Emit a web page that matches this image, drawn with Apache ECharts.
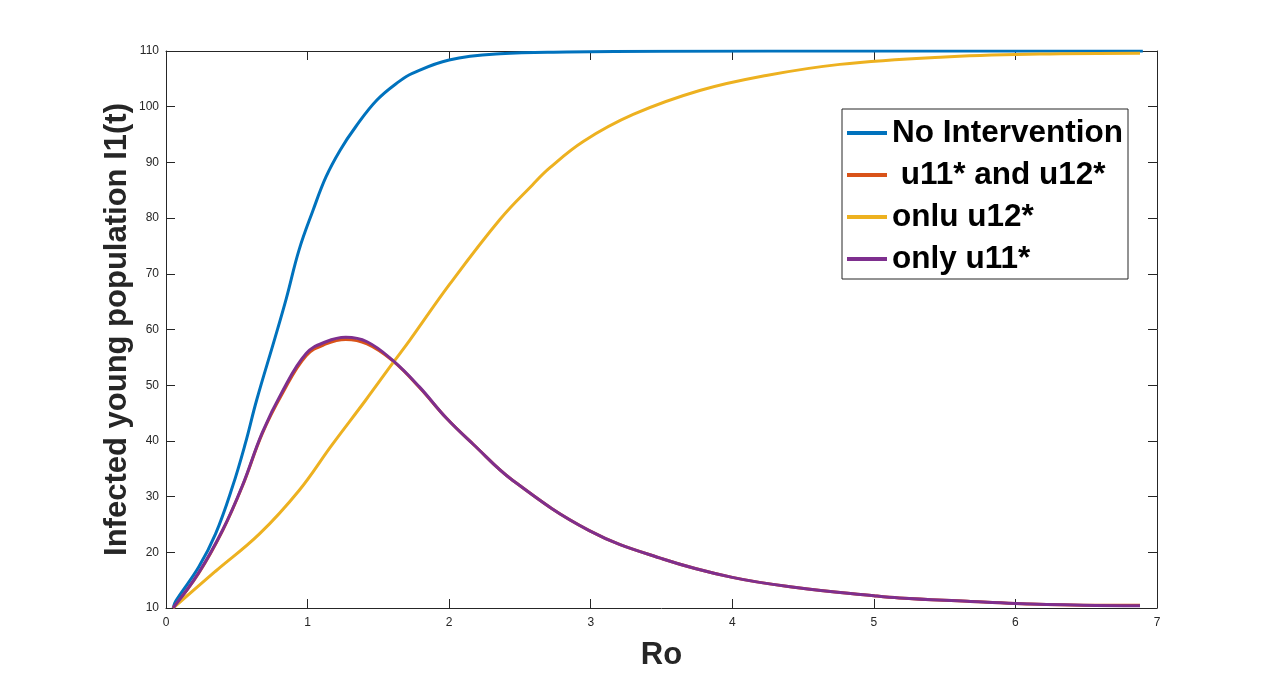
<!DOCTYPE html>
<html>
<head>
<meta charset="utf-8">
<script src="https://cdn.jsdelivr.net/npm/echarts@6/dist/echarts.min.js"></script>
<style>
  html, body { margin: 0; padding: 0; background: #fff; }
  #chart { width: 1280px; height: 683px; }
</style>
</head>
<body>
<div id="chart"></div>
<script>
// values: [Ro, I1]
const noIntervention = [
  [0.05, 10], [0.07, 11.3], [0.23, 17.3], [0.35, 23.3], [0.47, 31.8], [0.56, 39.5],
  [0.64, 47.3], [0.77, 58.5], [0.85, 65.6], [0.94, 74.3], [1.04, 81.5], [1.13, 87.4],
  [1.23, 92.2], [1.34, 96.4], [1.49, 101.2], [1.65, 104.6], [1.74, 106], [2.0, 108.4],
  [2.36, 109.5], [2.83, 109.8], [3.5, 109.95], [5, 110], [6.9, 110]
];
const bothControls = [
  [0.05, 10], [0.23, 16.2], [0.4, 23.9], [0.54, 31.9], [0.68, 41.3], [0.82, 48.4],
  [0.99, 55.3], [1.13, 57.4], [1.27, 58.2], [1.42, 57.4], [1.6, 54.4], [1.79, 49.6],
  [1.98, 44.1], [2.17, 39.4], [2.45, 32.9], [2.99, 23.9], [3.51, 18.8], [4.0, 15.5],
  [4.45, 13.7], [5.0, 12.2], [5.18, 11.8], [5.66, 11.2], [6.0, 10.8], [6.48, 10.5], [6.88, 10.5]
];
const onlyU12 = [
  [0.05, 10], [0.35, 16.6], [0.66, 23.3], [0.94, 31.1], [1.17, 39.2], [1.41, 47.3],
  [1.6, 53.9], [1.72, 58], [2.0, 68], [2.36, 79.8], [2.59, 86], [2.71, 89],
  [2.95, 93.8], [3.3, 98.6], [3.77, 102.9], [4.24, 105.6], [4.76, 107.6], [5.47, 108.9],
  [6.17, 109.45], [6.88, 109.6]
];
const onlyU11 = [
  [0.05, 10], [0.23, 16.3], [0.4, 24], [0.54, 32], [0.68, 41.5], [0.82, 48.8],
  [0.99, 55.7], [1.13, 57.8], [1.27, 58.6], [1.42, 57.8], [1.6, 54.5], [1.79, 49.7],
  [1.98, 44.1], [2.17, 39.4], [2.45, 32.9], [2.99, 23.9], [3.51, 18.8], [4.0, 15.5],
  [4.45, 13.7], [5.0, 12.2], [5.18, 11.8], [5.66, 11.2], [6.0, 10.8], [6.48, 10.5], [6.88, 10.4]
];
const seriesNames = ['No Intervention', ' u11* and u12*', 'onlu u12*', 'only u11*'];
const seriesColors = ['#0072BD', '#D95319', '#EDB120', '#7E2F8E'];

const chart = echarts.init(document.getElementById('chart'));

const axisColor = '#262626';
const font = 'Liberation Sans, Arial, sans-serif';
const tickFont = { color: axisColor, fontSize: 12, fontFamily: font };
const nameFont = { color: axisColor, fontSize: 31, fontWeight: 'bold', fontFamily: font };

function line(name, data, i) {
    return {
        name: name,
        type: 'line',
        data: data,
        smooth: 0.4,
        showSymbol: false,
        symbol: 'none',
        color: seriesColors[i],
        lineStyle: { width: 3, color: seriesColors[i] },
        z: 2 + i
    };
}

chart.setOption({
    animation: false,
    backgroundColor: '#fff',
    grid: { left: 166, right: 123, top: 51, bottom: 75 },
    legend: {
        orient: 'vertical',
        left: 842,
        top: 109,
        icon: 'rect',
        itemWidth: 40,
        itemHeight: 4,
        itemGap: 10,
        padding: [8, 5, 4, 5],
        backgroundColor: '#fff',
        borderColor: '#262626',
        borderWidth: 1,
        data: seriesNames,
        textStyle: { color: '#000', fontSize: 31.5, fontWeight: 'bold', lineHeight: 32, fontFamily: font }
    },
    xAxis: [{
        type: 'value', min: 0, max: 7, interval: 1,
        name: 'Ro', nameLocation: 'middle', nameGap: 32, nameTextStyle: nameFont,
        nameMoveOverlap: false,
        axisLine: { lineStyle: { color: axisColor, width: 1 } },
        axisTick: { inside: true, length: 9, lineStyle: { color: axisColor } },
        axisLabel: Object.assign({ margin: 9 }, tickFont),
        splitLine: { show: false }
    }, {
        type: 'value', min: 0, max: 7, interval: 1, position: 'top',
        axisLine: { onZero: false, lineStyle: { color: axisColor, width: 1 } },
        axisTick: { inside: true, length: 9, lineStyle: { color: axisColor } },
        axisLabel: { show: false },
        splitLine: { show: false }
    }],
    yAxis: [{
        type: 'value', min: 10, max: 110, interval: 10, position: 'left',
        name: 'Infected young population I1(t)', nameLocation: 'middle', nameGap: 33, nameRotate: 90,
        nameTextStyle: nameFont,
        nameMoveOverlap: false,
        axisLine: { show: true, lineStyle: { color: axisColor, width: 1 } },
        axisTick: { show: true, inside: true, length: 9, lineStyle: { color: axisColor } },
        axisLabel: Object.assign({ margin: 7 }, tickFont),
        splitLine: { show: false }
    }, {
        type: 'value', min: 10, max: 110, interval: 10, position: 'right',
        axisLine: { show: true, onZero: false, lineStyle: { color: axisColor, width: 1 } },
        axisTick: { show: true, inside: true, length: 9, lineStyle: { color: axisColor } },
        axisLabel: { show: false },
        splitLine: { show: false }
    }],
    series: [
        line(seriesNames[0], noIntervention, 0),
        line(seriesNames[1], bothControls, 1),
        line(seriesNames[2], onlyU12, 2),
        line(seriesNames[3], onlyU11, 3)
    ]
});
</script>
</body>
</html>
